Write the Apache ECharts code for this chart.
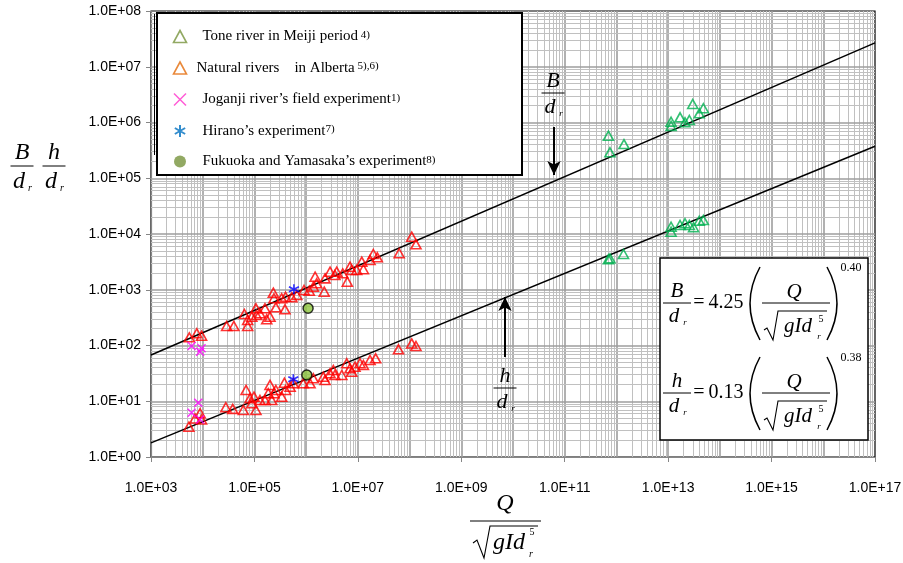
<!DOCTYPE html>
<html>
<head>
<meta charset="utf-8">
<script src="https://cdn.jsdelivr.net/npm/echarts@6.0.0/dist/echarts.min.js"></script>
<style>
html, body { margin: 0; padding: 0; background: #fff; }
#main { width: 903px; height: 563px; }
</style>
</head>
<body>
<div id="main"></div>
<script>
// Tone river in Meiji period (B/dr and h/dr against Q/sqrt(gIdr^5))
const toneXB = [7.0e11, 7.5e11, 1.4e12, 1.14e13, 1.14e13, 1.7e13, 2.12e13, 2.57e13, 2.99e13, 4.0e13, 4.8e13];
const toneB  = [5.8e5, 2.92e5, 4.1e5, 1.03e6, 8.7e5, 1.24e6, 1.01e6, 1.11e6, 2.15e6, 1.46e6, 1.8e6];
const toneXH = [7.0e11, 7.5e11, 1.37e12, 1.14e13, 1.14e13, 1.7e13, 2.12e13, 2.57e13, 3.1e13, 4.0e13, 4.8e13];
const toneH  = [3520, 3660, 4380, 1.35e4, 1.1e4, 1.45e4, 1.56e4, 1.45e4, 1.32e4, 1.73e4, 1.78e4];

// Natural rivers in Alberta
const albXB = [5.5e3, 7.7e3, 9.5e3, 2.9e4, 4.0e4, 6.4e4, 7.4e4, 7.4e4, 8.9e4, 1.07e5, 1.1e5, 1.28e5, 1.6e5, 1.73e5,
  2.0e5, 2.32e5, 2.39e5, 2.6e5, 3.37e5, 3.9e5, 4.0e5, 5.3e5, 6.6e5, 9.1e5, 1.15e6, 1.38e6, 1.49e6, 1.6e6, 2.24e6,
  2.32e6, 2.9e6, 3.6e6, 3.9e6, 5.1e6, 6.25e6, 7.05e6, 7.6e6, 9.5e6, 1.19e7, 1.28e7, 1.72e7, 1.99e7, 2.38e7, 6.3e7,
  1.1e8, 1.33e8];
const albB = [140, 166, 150, 224, 224, 367, 287, 224, 329, 465, 352, 378, 465, 295, 329, 885, 703, 484, 703, 446,
  750, 733, 805, 990, 962, 1135, 1715, 1305, 923, 1600, 2110, 1840, 2110, 1970, 1395, 2590, 2260, 2260, 3190, 2330,
  3420, 4380, 3820, 4510, 8950, 6530];
const albXH = [5.4e3, 7.1e3, 8.9e3, 9.5e3, 2.8e4, 3.8e4, 6.1e4, 6.9e4, 8.2e4, 8.9e4, 9.8e4, 1.07e5, 1.28e5, 1.6e5,
  1.85e5, 2.0e5, 2.16e5, 2.39e5, 2.6e5, 3.37e5, 3.8e5, 4.0e5, 4.9e5, 5.65e5, 8.8e5, 1.19e6, 1.38e6, 2.15e6, 2.32e6,
  2.9e6, 3.36e6, 3.6e6, 4.9e6, 6.1e6, 7.05e6, 7.6e6, 8.8e6, 1.1e7, 1.28e7, 1.72e7, 2.21e7, 6.1e7, 1.1e8, 1.33e8];
const albH = [3.5, 4.9, 6.1, 4.7, 7.8, 7.3, 7.0, 15.9, 11.3, 9.2, 12.1, 7.0, 10.5, 10.5, 13.9, 19.6, 10.5, 13.9,
  15.9, 12.1, 21.5, 15.9, 18.2, 21.0, 21.0, 21.0, 25.8, 27.6, 24.0, 31.7, 36.4, 29.6, 29.6, 48, 39, 33.9, 41.7, 48,
  44.7, 55, 58.9, 85.5, 109, 98];

// Joganji river's field experiment
const jogXB = [6.1e3, 8.9e3, 9.5e3];
const jogB  = [98, 77, 89];
const jogXH = [8.2e3, 6.1e3, 8.9e3];
const jogH  = [9.4, 6.2, 4.7];

// Hirano's experiment
const hirXB = [5.8e5];
const hirB  = [1020];
const hirXH = [5.65e5];
const hirH  = [24.8];

// Fukuoka and Yamasaka's experiment
const fukXB = [1.09e6];
const fukB  = [465];
const fukXH = [1.03e6];
const fukH  = [29.6];

// fitted lines, end points
const fitX = [1e3, 1e17];
const fitB = [67.4, 2.68e7];
const fitH = [1.79, 3.75e5];

// annotation arrows [x, from, to]
const arrowB = [6.2e10, 8.3e5, 1.14e5];
const arrowH = [7.0e9, 62, 741];

const names = ['Tone river in Meiji period', 'Natural rivers    in Alberta', 'Joganji river\u2019s field experiment',
  'Hirano\u2019s experiment', 'Fukuoka and Yamasaka\u2019s experiment'];
const refs = [' 4)', ' 5),6)', '1)', '7)', '8)'];

const SERIF = '"Liberation Serif", "Times New Roman", serif';
const X_PATH = 'path://M0,0L10,10M10,0L0,10';
const STAR_PATH = 'path://M5,0L5,10M0.7,2.5L9.3,7.5M9.3,2.5L0.7,7.5';

const zip = (xs, ys) => xs.map((x, i) => [x, ys[i]]);

// grid lines at 1..9 x 10^k
const gridX = [], gridY = [];
for (let k = 3; k < 17; k++) for (let m = 1; m <= 9; m++) if (!(k === 3 && m === 1)) gridX.push({ xAxis: m * Math.pow(10, k), major: m === 1 });
for (let k = 0; k < 8; k++) for (let m = 1; m <= 9; m++) if (!(k === 0 && m === 1)) gridY.push({ yAxis: m * Math.pow(10, k), major: m === 1 });
const gridLines = gridX.concat(gridY).map(g => {
  const d = g.xAxis != null ? { xAxis: g.xAxis } : { yAxis: g.yAxis };
  d.lineStyle = g.major ? { color: '#9e9e9e', width: 1.6, type: 'solid' } : { color: '#c0c0c0', width: 1, type: 'solid' };
  return d;
});

function txt(x, y, s, size, italic) {
  return { type: 'text', x: x, y: y, z: 30, silent: true,
    style: { text: s, fontSize: size, fontFamily: SERIF, fontStyle: italic ? 'italic' : 'normal', fill: '#000',
      align: 'center', verticalAlign: 'middle' } };
}
function poly(points, w) {
  return { type: 'polyline', z: 30, silent: true, shape: { points: points }, style: { stroke: '#000', lineWidth: w || 1, fill: null } };
}
function paren(x, yT, yB, cx) {
  return { type: 'bezierCurve', z: 30, silent: true,
    shape: { x1: x, y1: yT, x2: x, y2: yB, cpx1: cx, cpy1: (yT + yB) / 2 },
    style: { stroke: '#000', lineWidth: 1.5, fill: null } };
}
function frac(cx, yBar, num, size, w) {
  return [
    txt(cx, yBar - size * 0.55, num, size, true),
    poly([[cx - w / 2, yBar], [cx + w / 2, yBar]], 1),
    txt(cx - 3, yBar + size * 0.65, 'd', size, true),
    txt(cx + 8, yBar + size * 0.95, 'r', size * 0.42, true)
  ];
}
function equation(y0, lhs, coef, expo) {
  return [].concat(
    frac(677, y0, lhs, 21, 28),
    [txt(699, y0, '=', 20, false),
     txt(726, y0, coef, 20, false),
     paren(760, y0 - 36, y0 + 37, 740),
     paren(827, y0 - 36, y0 + 37, 847),
     txt(794, y0 - 11, 'Q', 21, true),
     poly([[762, y0], [830, y0]], 1),
     poly([[764, y0 + 27], [767, y0 + 25], [773, y0 + 37], [778, y0 + 8], [827, y0 + 8]], 1.1),
     txt(798, y0 + 23, 'gId', 21, true),
     txt(819, y0 + 34, 'r', 9, true),
     txt(821, y0 + 16, '5', 10, false),
     txt(851, y0 - 35, expo, 12, false)]
  );
}

const graphics = [].concat(
  [{ type: 'rect', z: 9, silent: true, shape: { x: 157, y: 13, width: 365, height: 162 }, style: { fill: '#fff', stroke: '#000', lineWidth: 2 } },
   poly([[154.5, 14], [154.5, 155]], 1)],
  // y axis title
  frac(22, 166, 'B', 24, 23), frac(54, 166, 'h', 24, 23),
  // x axis title
  [txt(505, 504, 'Q', 24, true),
   poly([[470, 521], [541, 521]], 1),
   poly([[473, 543], [477, 540], [484, 558], [490, 526], [538, 526]], 1.1),
   txt(509, 543, 'gId', 24, true),
   txt(531, 554, 'r', 10, true),
   txt(532, 532, '5', 10, false)],
  // arrow labels
  frac(553, 93, 'B', 22, 23), frac(505, 388, 'h', 22, 23),
  // equation box
  [{ type: 'rect', z: 29, silent: true, shape: { x: 660, y: 258, width: 208, height: 182 }, style: { fill: '#fff', stroke: '#000', lineWidth: 1.5 } }],
  equation(303, 'B', '4.25', '0.40'),
  equation(393, 'h', '0.13', '0.38')
);

const sciLabel = v => {
  const e = Math.round(Math.log10(v));
  return '1.0E+' + String(e).padStart(2, '0');
};

const chart = echarts.init(document.getElementById('main'));
chart.setOption({
  animation: false,
  backgroundColor: '#fff',
  grid: { left: 151, right: 28, top: 11, bottom: 106, show: true, borderColor: '#000', borderWidth: 1.2, containLabel: false, outerBoundsMode: 'none' },
  xAxis: {
    type: 'log', logBase: 10, min: 1e3, max: 1e17, interval: 2,
    axisLine: { lineStyle: { color: '#868686', width: 1.2 } },
    axisTick: { show: true, length: 5, lineStyle: { color: '#868686' } },
    axisLabel: { formatter: sciLabel, margin: 24, color: '#000', fontSize: 14, fontFamily: '"Liberation Sans", Arial, sans-serif' },
    splitLine: { show: false }
  },
  yAxis: {
    type: 'log', logBase: 10, min: 1, max: 1e8, interval: 1,
    axisLine: { show: true, lineStyle: { color: '#868686', width: 1.2 } },
    axisTick: { show: true, length: 5, lineStyle: { color: '#868686' } },
    axisLabel: { formatter: sciLabel, margin: 10, color: '#000', fontSize: 14, fontFamily: '"Liberation Sans", Arial, sans-serif' },
    splitLine: { show: false }
  },
  legend: {
    orient: 'vertical', left: 171, top: 28, itemWidth: 13, itemHeight: 12, itemGap: 13, padding: 0, z: 10,
    selectedMode: false,
    data: [
      { name: names[0], icon: 'triangle', itemStyle: { color: 'none', borderColor: '#77933c', borderWidth: 1.6 } },
      { name: names[1], icon: 'triangle', itemStyle: { color: 'none', borderColor: '#e46c0a', borderWidth: 1.6 } },
      { name: names[2], icon: X_PATH, itemStyle: { color: 'none', borderColor: '#ff33cc', borderWidth: 1.5 } },
      { name: names[3], icon: STAR_PATH, itemStyle: { color: 'none', borderColor: '#0070c0', borderWidth: 2 } },
      { name: names[4], icon: 'circle', itemStyle: { color: '#77933c', borderWidth: 0 } }
    ],
    formatter: name => {
      const i = names.indexOf(name);
      return '{' + (i === 1 ? 'n' : 't') + '|' + name + '}{s|' + refs[i] + '}';
    },
    textStyle: {
      rich: {
        t: { fontSize: 15, fontFamily: SERIF, color: '#000', lineHeight: 14, padding: [0, 0, 0, 11] },
        n: { fontSize: 15, fontFamily: SERIF, color: '#000', lineHeight: 14, padding: [0, 0, 0, 5] },
        s: { fontSize: 11, fontFamily: SERIF, color: '#000', lineHeight: 14, verticalAlign: 'top', padding: [0, 0, 6, 0] }
      }
    }
  },
  graphic: graphics,
  series: [
    { type: 'scatter', name: 'grid', data: [], z: 1, silent: true,
      markLine: { z: 1, silent: true, symbol: 'none', animation: false, label: { show: false }, data: gridLines } },
    { type: 'line', name: 'fitB', data: zip(fitX, fitB), showSymbol: false, z: 2, silent: true, lineStyle: { color: '#000', width: 1.5 } },
    { type: 'line', name: 'fitH', data: zip(fitX, fitH), showSymbol: false, z: 2, silent: true, lineStyle: { color: '#000', width: 1.5 } },
    { type: 'scatter', name: 'arrows', data: [], z: 3, silent: true,
      markLine: { z: 3, silent: true, symbol: ['none', 'arrow'], symbolSize: [10, 14], animation: false, label: { show: false },
        lineStyle: { color: '#000', width: 2, type: 'solid' },
        data: [
          [{ coord: [arrowB[0], arrowB[1]] }, { coord: [arrowB[0], arrowB[2]] }],
          [{ coord: [arrowH[0], arrowH[1]] }, { coord: [arrowH[0], arrowH[2]] }]
        ] } },
    { type: 'scatter', name: names[0], data: zip(toneXB, toneB).concat(zip(toneXH, toneH)), z: 4,
      symbol: 'triangle', symbolSize: [10, 9], itemStyle: { color: 'none', borderColor: '#00b050', borderWidth: 1.6 } },
    { type: 'scatter', name: names[1], data: zip(albXB, albB).concat(zip(albXH, albH)), z: 4,
      symbol: 'triangle', symbolSize: [10, 9], itemStyle: { color: 'none', borderColor: '#ff0000', borderWidth: 1.6 } },
    { type: 'scatter', name: names[2], data: zip(jogXB, jogB).concat(zip(jogXH, jogH)), z: 5,
      symbol: X_PATH, symbolSize: 8, itemStyle: { color: 'none', borderColor: '#ff00ff', borderWidth: 1.5 } },
    { type: 'scatter', name: names[3], data: zip(hirXB, hirB).concat(zip(hirXH, hirH)), z: 6,
      symbol: STAR_PATH, symbolSize: 10, itemStyle: { color: 'none', borderColor: '#0000ff', borderWidth: 1.6 } },
    { type: 'scatter', name: names[4], data: zip(fukXB, fukB).concat(zip(fukXH, fukH)), z: 6,
      symbol: 'circle', symbolSize: 10, itemStyle: { color: '#8dc63f', borderColor: '#000', borderWidth: 1.5 } }
  ]
});
</script>
</body>
</html>
